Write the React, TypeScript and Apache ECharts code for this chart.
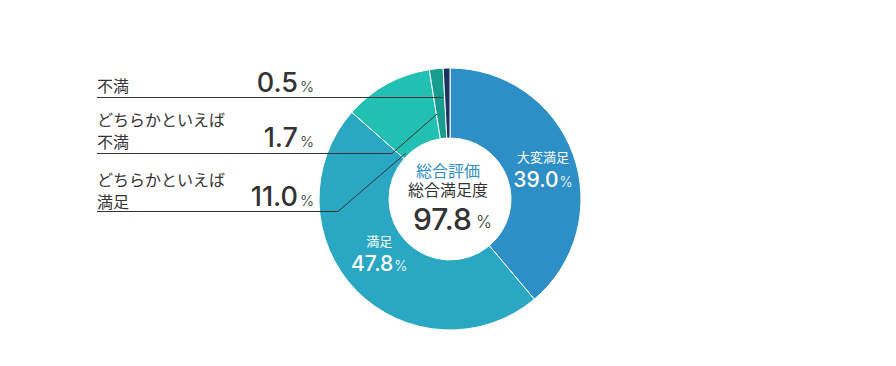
import React, { useEffect, useRef } from "react";
import * as echarts from "echarts";

const categories = ["大変満足", "満足", "どちらかといえば満足", "どちらかといえば不満", "不満"];
const values = [39.0, 47.8, 11.0, 1.7, 0.5];
const sliceColors = ["#2e8fc7", "#2aa7c3", "#21c0b3", "#179d90", "#1b3360"];
const leftLabelRows = [
  { index: 4, lines: ["不満"] },
  { index: 3, lines: ["どちらかといえば", "不満"] },
  { index: 2, lines: ["どちらかといえば", "満足"] },
];
const centerTitle = "総合評価";
const centerSubtitle = "総合満足度";
const centerValue = 97.8;

const JP = '"Noto Sans CJK JP", "Noto Sans", sans-serif';
const JP_TIGHT = '"Liberation Sans", "Noto Sans CJK JP", sans-serif';
const NUM = 'Inter, Roboto, "Noto Sans", sans-serif';

export default function App() {
  const ref = useRef<HTMLDivElement>(null);
  useEffect(() => {
    if (!ref.current) return;
    const chart = echarts.init(ref.current, undefined, { renderer: "svg" });

    const data = categories.map((name, i) => {
      const inside = i < 2;
      return {
        name,
        value: values[i],
        itemStyle: { color: sliceColors[i] },
        label: inside
          ? {
              show: true,
              position: "inside",
              offset: i === 1 ? [0, -16] : [0, 3],
              formatter: `{n|${name}}\n{v|${values[i].toFixed(1)}}{p|%}`,
              rich: {
                n: { fontFamily: JP, fontSize: 13, color: "#fff", lineHeight: 22, align: "center" },
                v: { fontFamily: NUM, fontSize: 21, color: "#fff", fontWeight: 500, lineHeight: 24 },
                p: { fontFamily: NUM, fontSize: 14, color: "#fff", fontWeight: 300, lineHeight: 24, padding: [4, 0, 0, 1] },
              },
            }
          : { show: false },
        labelLine: { show: false },
      };
    });

    // left annotation rows
    const rowGeom = [
      { textY: 85, numY: 82, lineY: 97.5, pts: [[443, 97.5]] },
      { textY: 129.5, numY: 137, lineY: 153.5, pts: [[392, 153.5], [437, 114]] },
      { textY: 189.5, numY: 196, lineY: 211.5, pts: [[338, 211.5], [406, 153]] },
    ];
    const graphics: any[] = [];
    leftLabelRows.forEach((row, r) => {
      const g = rowGeom[r];
      graphics.push({
        type: "text",
        z: 100,
        style: {
          text: row.lines.join("\n"),
          x: 97,
          y: g.textY,
          fill: "#333",
          font: `400 16px ${JP}`,
          lineHeight: 22,
          textAlign: "left",
          textVerticalAlign: "middle",
        },
      });
      graphics.push({
        type: "text",
        z: 100,
        style: {
          text: values[row.index].toFixed(1),
          x: 298,
          y: g.numY,
          fill: "#333",
          font: `500 27px ${NUM}`,
          textAlign: "right",
          textVerticalAlign: "middle",
        },
      });
      graphics.push({
        type: "text",
        z: 100,
        style: {
          text: "%",
          x: 300,
          y: g.numY + 4,
          fill: "#333",
          font: `300 15px ${NUM}`,
          textAlign: "left",
          textVerticalAlign: "middle",
        },
      });
      graphics.push({
        type: "polyline",
        z: 100,
        shape: { points: [[97, g.lineY], ...g.pts] },
        style: { stroke: "#333", lineWidth: 1, fill: null },
      });
    });

    // center texts
    graphics.push({
      type: "text",
      z: 100,
      style: {
        text: centerTitle,
        x: 448,
        y: 171.5,
        fill: "#2e8fc7",
        font: `400 16px ${JP_TIGHT}`,
        textAlign: "center",
        textVerticalAlign: "middle",
      },
    });
    graphics.push({
      type: "text",
      z: 100,
      style: {
        text: centerSubtitle,
        x: 448,
        y: 190,
        fill: "#333",
        font: `400 16px ${JP_TIGHT}`,
        textAlign: "center",
        textVerticalAlign: "middle",
      },
    });
    graphics.push({
      type: "text",
      z: 100,
      style: {
        text: centerValue.toFixed(1),
        x: 472,
        y: 218.5,
        fill: "#333",
        font: `500 30px ${NUM}`,
        textAlign: "right",
        textVerticalAlign: "middle",
      },
    });
    graphics.push({
      type: "text",
      z: 100,
      style: {
        text: "%",
        x: 476,
        y: 222,
        fill: "#333",
        font: `300 17px ${NUM}`,
        textAlign: "left",
        textVerticalAlign: "middle",
      },
    });

    chart.setOption({
      animation: false,
      backgroundColor: "#fff",
      series: [
        {
          type: "pie",
          center: [450, 199],
          radius: [61, 131],
          startAngle: 90,
          clockwise: true,
          minAngle: 3,
          avoidLabelOverlap: false,
          itemStyle: { borderColor: "#fff", borderWidth: 1 },
          data,
        },
      ],
      graphic: graphics,
    });
    return () => chart.dispose();
  }, []);
  return (
    <div
      ref={ref}
      style={{ position: "fixed", left: 0, top: 0, width: 896, height: 366 }}
    />
  );
}
